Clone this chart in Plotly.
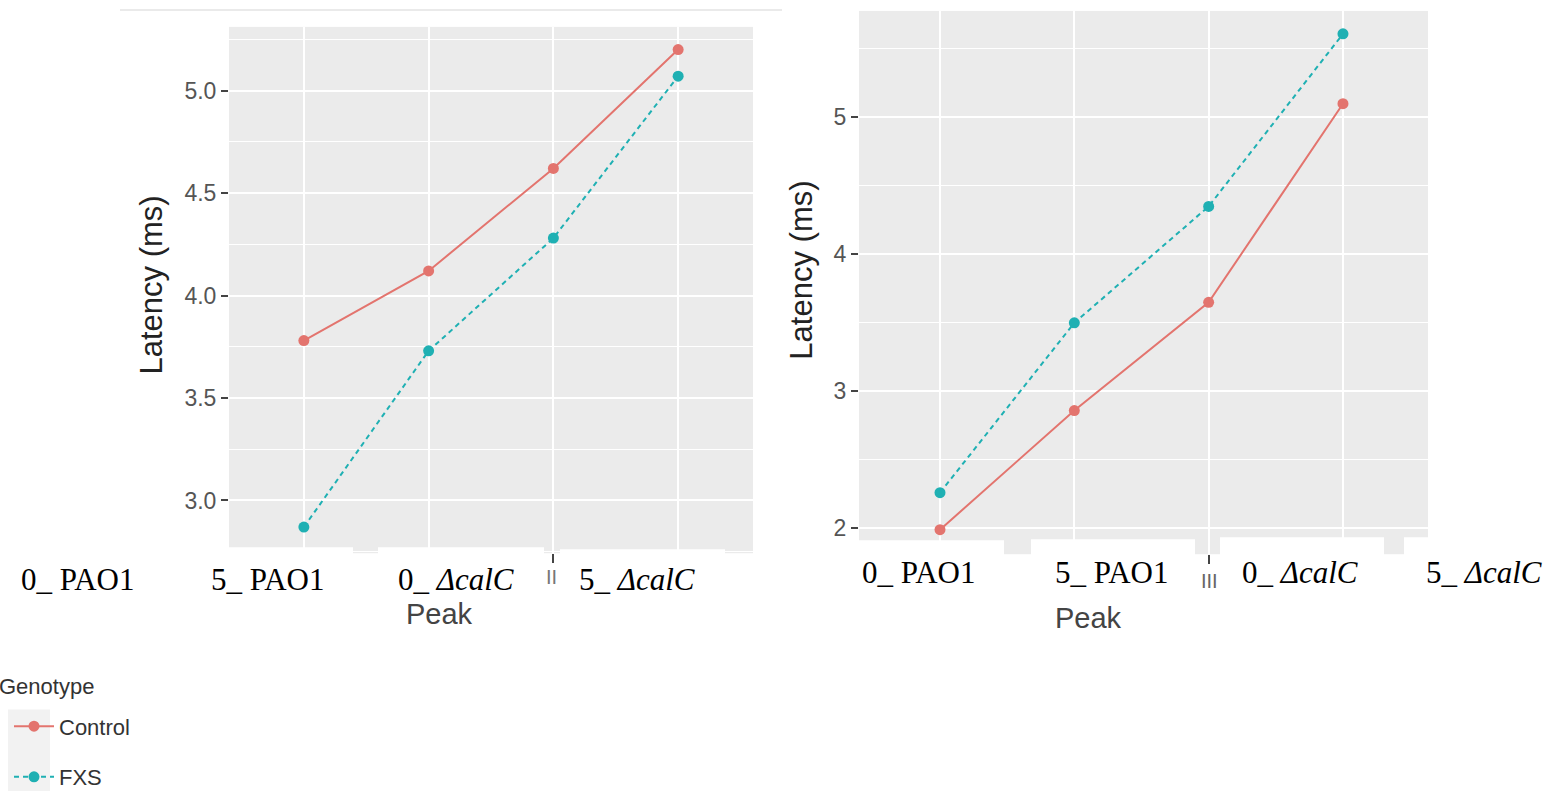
import plotly.graph_objects as go

W, H = 1558, 798

# ---------------- data ----------------
peaks = [0, 1, 2, 3]
peak_labels_html = ["0_ PAO1", "5_ PAO1", "0_ <i>ΔcalC</i>", "5_ <i>ΔcalC</i>"]
left_control = [3.78, 4.12, 4.62, 5.20]
left_fxs = [2.87, 3.73, 4.28, 5.07]
right_control = [1.99, 2.86, 3.65, 5.10]
right_fxs = [2.26, 3.50, 4.35, 5.61]
left_yticks = [3.0, 3.5, 4.0, 4.5, 5.0]
right_yticks = [2, 3, 4, 5]

CTRL = "#E3746E"
FXS = "#1FB0B3"
GRAYBG = "#EBEBEB"


def px(x):
    return x / W


def py(y):
    return 1 - y / H


fig = go.Figure()

fig.add_trace(go.Scatter(x=peaks, y=left_control, mode="lines+markers", name="Control",
                         line=dict(color=CTRL, width=2), marker=dict(color=CTRL, size=11),
                         xaxis="x", yaxis="y", legend="legend"))
fig.add_trace(go.Scatter(x=peaks, y=left_fxs, mode="lines+markers", name="FXS",
                         line=dict(color=FXS, width=2, dash="5px,4px"), marker=dict(color=FXS, size=11),
                         xaxis="x", yaxis="y", legend="legend2"))
fig.add_trace(go.Scatter(x=peaks, y=right_control, mode="lines+markers", name="Control",
                         line=dict(color=CTRL, width=2), marker=dict(color=CTRL, size=11),
                         xaxis="x2", yaxis="y2", showlegend=False))
fig.add_trace(go.Scatter(x=peaks, y=right_fxs, mode="lines+markers", name="FXS",
                         line=dict(color=FXS, width=2, dash="5px,4px"), marker=dict(color=FXS, size=11),
                         xaxis="x2", yaxis="y2", showlegend=False))

tickfont = dict(family="Liberation Sans, Arial", size=23, color="#555555")

common_x = dict(tickvals=peaks, showticklabels=False, showgrid=True, gridcolor="white",
                gridwidth=2, zeroline=False, ticks="outside", ticklen=9, tickwidth=2,
                tickcolor="#444444", showline=False, fixedrange=True)

legfont = dict(family="Liberation Sans, Arial", size=22, color="#333333")

fig.update_layout(
    width=W, height=H,
    margin=dict(l=0, r=0, t=0, b=0),
    paper_bgcolor="white",
    plot_bgcolor=GRAYBG,
    xaxis=dict(domain=[px(229), px(753)], range=[-0.6, 3.6], anchor="y", **common_x),
    yaxis=dict(domain=[py(556), py(27)], range=[3.0 - 53 / 206, 5.0 + 64 / 206], anchor="x",
               tickvals=left_yticks, tickformat=".1f", tickfont=tickfont,
               showgrid=True, gridcolor="white", gridwidth=2, zeroline=False,
               ticks="outside", ticklen=7, tickwidth=2, tickcolor="#444444",
               minor=dict(dtick=0.25, tick0=0, showgrid=True, gridcolor="white", gridwidth=1, ticks=""),
               fixedrange=True),
    xaxis2=dict(domain=[px(859), px(1428)], range=[-0.603, 3.633], anchor="y2", **common_x),
    yaxis2=dict(domain=[py(557), py(11)], range=[2 - 26 / 137.67, 5 + 107 / 137.67], anchor="x2",
                tickvals=right_yticks, tickfont=tickfont,
                showgrid=True, gridcolor="white", gridwidth=2, zeroline=False,
                ticks="outside", ticklen=7, tickwidth=2, tickcolor="#444444",
                minor=dict(dtick=0.5, tick0=0, showgrid=True, gridcolor="white", gridwidth=1, ticks=""),
                fixedrange=True),
    legend=dict(x=px(9), y=py(730), xanchor="left", yanchor="middle",
                font=legfont, bgcolor="rgba(0,0,0,0)", itemwidth=40),
    legend2=dict(x=px(9), y=py(781), xanchor="left", yanchor="middle",
                 font=legfont, bgcolor="rgba(0,0,0,0)", itemwidth=40),
    showlegend=True,
)

shapes = []


def rect(x0, y0, x1, y1, fill="white", layer="above"):
    shapes.append(dict(type="rect", xref="paper", yref="paper", x0=px(x0), x1=px(x1),
                       y0=py(y1), y1=py(y0), fillcolor=fill, layer=layer, line=dict(width=0)))


shapes.append(dict(type="line", xref="paper", yref="paper", x0=px(120), x1=px(782), y0=py(10), y1=py(10),
                   line=dict(color="#e3e3e3", width=1.5), layer="below"))
rect(0, 550, 353, 660)
rect(378, 550, 544, 660)
rect(560, 552, 725, 660)
rect(780, 543, 1004, 660)
rect(1031, 542, 1195, 660)
rect(1220, 540, 1384, 660)
rect(1404, 540, 1558, 660)
rect(8, 713, 50, 795, fill="#F2F2F2", layer="below")

fig.update_layout(shapes=shapes)

ann = []
serif = dict(family="Liberation Serif, Times New Roman", size=31, color="black")
left_label_x = [77, 267, 456, 637]
right_label_x = [918, 1111, 1300, 1484]
for t, xx in zip(peak_labels_html, left_label_x):
    ann.append(dict(text=t, x=px(xx), y=py(582), xref="paper", yref="paper", showarrow=False,
                    xanchor="center", yanchor="middle", font=serif))
for t, xx in zip(peak_labels_html, right_label_x):
    ann.append(dict(text=t, x=px(xx), y=py(575), xref="paper", yref="paper", showarrow=False,
                    xanchor="center", yanchor="middle", font=serif))

peakfont = dict(family="Liberation Sans, Arial", size=29, color="#444444")
ann.append(dict(text="Peak", x=px(439), y=py(617), xref="paper", yref="paper", showarrow=False,
                xanchor="center", yanchor="middle", font=peakfont))
ann.append(dict(text="Peak", x=px(1088), y=py(621), xref="paper", yref="paper", showarrow=False,
                xanchor="center", yanchor="middle", font=peakfont))
sans_title = dict(family="Liberation Sans, Arial", size=31, color="#222222")
ann.append(dict(text="Latency (ms)", x=px(152), y=py(287), xref="paper", yref="paper", showarrow=False,
                textangle=-90, xanchor="center", yanchor="middle", font=sans_title))
ann.append(dict(text="Latency (ms)", x=px(802), y=py(272), xref="paper", yref="paper", showarrow=False,
                textangle=-90, xanchor="center", yanchor="middle", font=sans_title))
ann.append(dict(text="Genotype", x=px(0), y=py(690), xref="paper", yref="paper", showarrow=False,
                xanchor="left", yanchor="middle", xshift=-3,
                font=dict(family="Liberation Sans, Arial", size=22, color="#333333")))
ann.append(dict(text="II", x=px(551), y=py(580), xref="paper", yref="paper", showarrow=False,
                xanchor="center", yanchor="middle",
                font=dict(family="Liberation Sans Narrow, Liberation Sans", size=20, color="#777777")))
ann.append(dict(text="III", x=px(1209), y=py(584), xref="paper", yref="paper", showarrow=False,
                xanchor="center", yanchor="middle",
                font=dict(family="Liberation Sans Narrow, Liberation Sans", size=20, color="#666666")))

fig.update_layout(annotations=ann)

fig.write_html("out.html", config={"displayModeBar": False},
               post_script="document.body.style.margin='0';")
